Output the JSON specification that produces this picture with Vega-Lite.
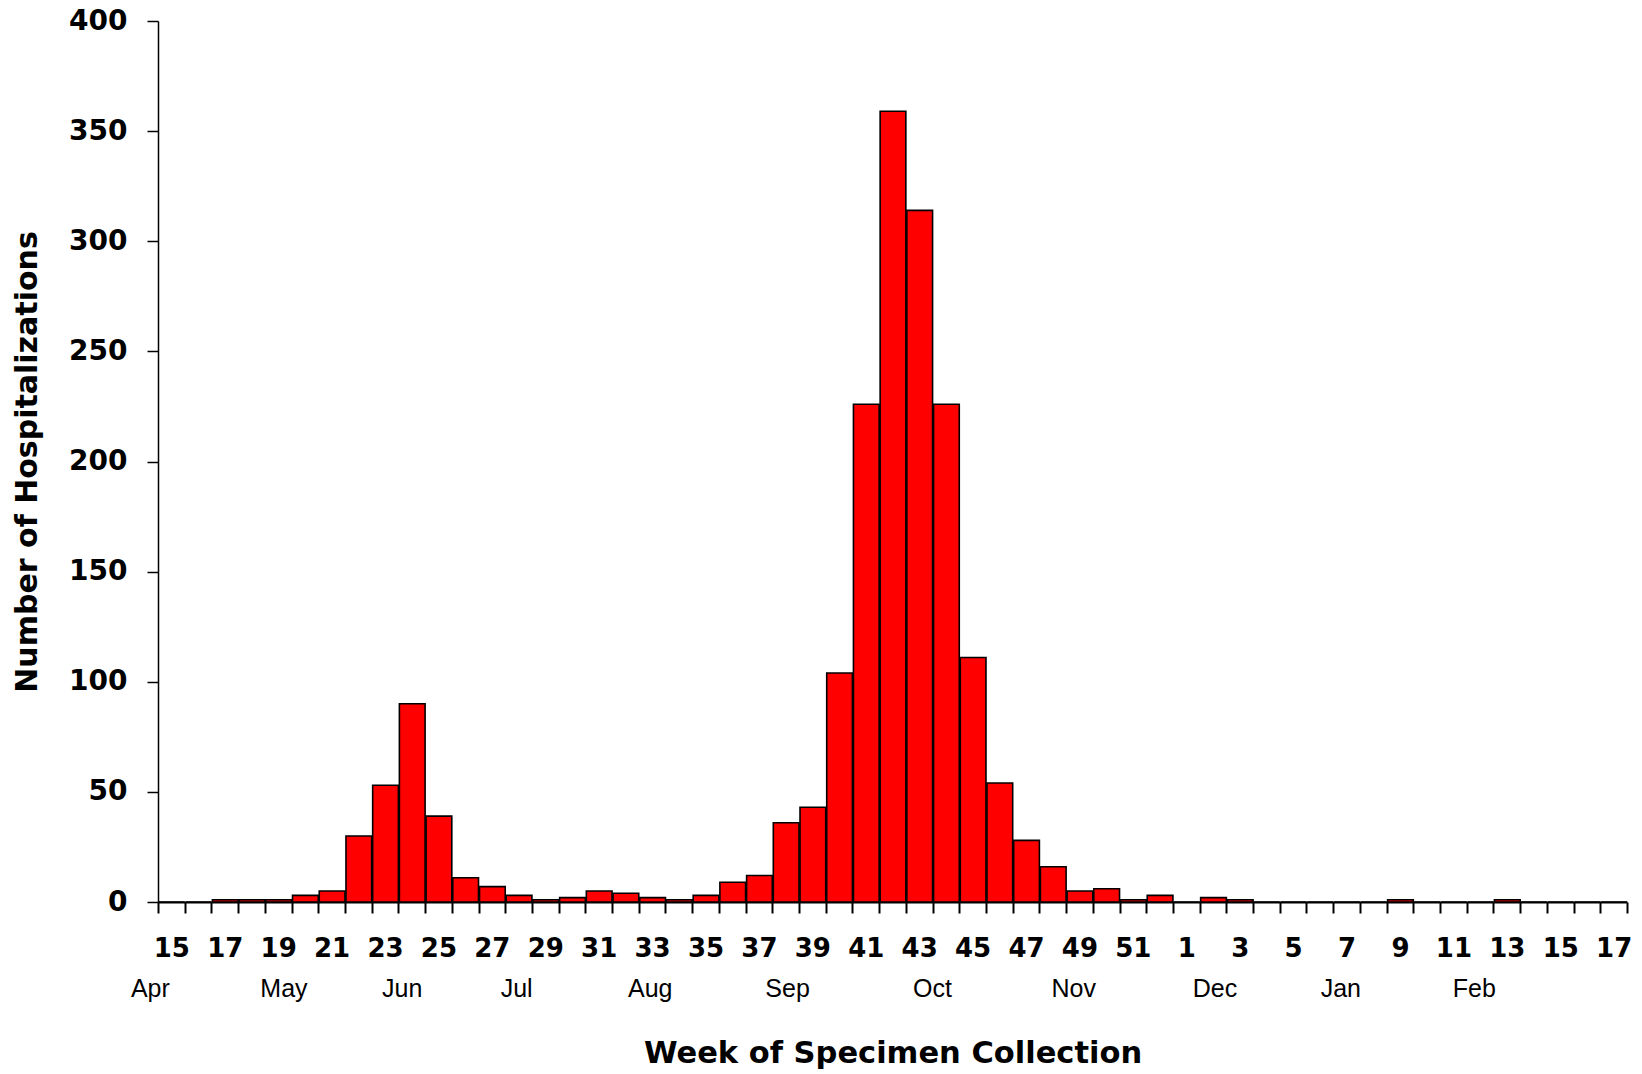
{
  "$schema": "https://vega.github.io/schema/vega-lite/v6.json",
  "width": 1469,
  "height": 881,
  "autosize": "none",
  "padding": {"left": 158, "top": 21, "right": 15, "bottom": 172},
  "background": "white",
  "config": {"view": {"stroke": null}},
  "datasets": {
    "weeks": [
      {"week_start": "2009-04-12", "hospitalizations": 0},
      {"week_start": "2009-04-19", "hospitalizations": 0},
      {"week_start": "2009-04-26", "hospitalizations": 1},
      {"week_start": "2009-05-03", "hospitalizations": 1},
      {"week_start": "2009-05-10", "hospitalizations": 1},
      {"week_start": "2009-05-17", "hospitalizations": 3},
      {"week_start": "2009-05-24", "hospitalizations": 5},
      {"week_start": "2009-05-31", "hospitalizations": 30},
      {"week_start": "2009-06-07", "hospitalizations": 53},
      {"week_start": "2009-06-14", "hospitalizations": 90},
      {"week_start": "2009-06-21", "hospitalizations": 39},
      {"week_start": "2009-06-28", "hospitalizations": 11},
      {"week_start": "2009-07-05", "hospitalizations": 7},
      {"week_start": "2009-07-12", "hospitalizations": 3},
      {"week_start": "2009-07-19", "hospitalizations": 1},
      {"week_start": "2009-07-26", "hospitalizations": 2},
      {"week_start": "2009-08-02", "hospitalizations": 5},
      {"week_start": "2009-08-09", "hospitalizations": 4},
      {"week_start": "2009-08-16", "hospitalizations": 2},
      {"week_start": "2009-08-23", "hospitalizations": 1},
      {"week_start": "2009-08-30", "hospitalizations": 3},
      {"week_start": "2009-09-06", "hospitalizations": 9},
      {"week_start": "2009-09-13", "hospitalizations": 12},
      {"week_start": "2009-09-20", "hospitalizations": 36},
      {"week_start": "2009-09-27", "hospitalizations": 43},
      {"week_start": "2009-10-04", "hospitalizations": 104},
      {"week_start": "2009-10-11", "hospitalizations": 226},
      {"week_start": "2009-10-18", "hospitalizations": 359},
      {"week_start": "2009-10-25", "hospitalizations": 314},
      {"week_start": "2009-11-01", "hospitalizations": 226},
      {"week_start": "2009-11-08", "hospitalizations": 111},
      {"week_start": "2009-11-15", "hospitalizations": 54},
      {"week_start": "2009-11-22", "hospitalizations": 28},
      {"week_start": "2009-11-29", "hospitalizations": 16},
      {"week_start": "2009-12-06", "hospitalizations": 5},
      {"week_start": "2009-12-13", "hospitalizations": 6},
      {"week_start": "2009-12-20", "hospitalizations": 1},
      {"week_start": "2009-12-27", "hospitalizations": 3},
      {"week_start": "2010-01-03", "hospitalizations": 0},
      {"week_start": "2010-01-10", "hospitalizations": 2},
      {"week_start": "2010-01-17", "hospitalizations": 1},
      {"week_start": "2010-01-24", "hospitalizations": 0},
      {"week_start": "2010-01-31", "hospitalizations": 0},
      {"week_start": "2010-02-07", "hospitalizations": 0},
      {"week_start": "2010-02-14", "hospitalizations": 0},
      {"week_start": "2010-02-21", "hospitalizations": 0},
      {"week_start": "2010-02-28", "hospitalizations": 1},
      {"week_start": "2010-03-07", "hospitalizations": 0},
      {"week_start": "2010-03-14", "hospitalizations": 0},
      {"week_start": "2010-03-21", "hospitalizations": 0},
      {"week_start": "2010-03-28", "hospitalizations": 1},
      {"week_start": "2010-04-04", "hospitalizations": 0},
      {"week_start": "2010-04-11", "hospitalizations": 0},
      {"week_start": "2010-04-18", "hospitalizations": 0},
      {"week_start": "2010-04-25", "hospitalizations": 0}
    ],
    "months": [
      {"month": "Apr", "at": "2009-04-10"},
      {"month": "May", "at": "2009-05-15"},
      {"month": "Jun", "at": "2009-06-15"},
      {"month": "Jul", "at": "2009-07-15"},
      {"month": "Aug", "at": "2009-08-19"},
      {"month": "Sep", "at": "2009-09-24"},
      {"month": "Oct", "at": "2009-11-01"},
      {"month": "Nov", "at": "2009-12-08"},
      {"month": "Dec", "at": "2010-01-14"},
      {"month": "Jan", "at": "2010-02-16"},
      {"month": "Feb", "at": "2010-03-23"}
    ]
  },
  "layer": [
    {
      "data": {"name": "weeks"},
      "mark": {"type": "bar", "color": "#ff0000", "stroke": "black", "strokeWidth": 1.6},
      "encoding": {
        "x": {
          "timeUnit": "utcyearweek",
          "field": "week_start",
          "type": "temporal",
          "scale": {
            "type": "utc",
            "nice": false,
            "domain": [
              {"year": 2009, "month": 4, "date": 12, "utc": true},
              {"year": 2010, "month": 5, "date": 2, "utc": true}
            ]
          },
          "axis": {
            "title": "Week of Specimen Collection",
            "grid": false,
            "tickCount": {"interval": "week", "step": 1},
            "labelExpr": "toNumber(utcFormat(datum.value, '%U')) % 2 == 1 ? '' + toNumber(utcFormat(datum.value, '%U')) : ''",
            "labelOffset": 13.35,
            "labelOverlap": false,
            "labelFlush": false,
            "labelFont": "DejaVu Sans",
            "labelFontWeight": "bold",
            "labelFontSize": 26,
            "labelColor": "black",
            "labelPadding": 22,
            "tickSize": 11,
            "tickWidth": 2,
            "tickColor": "black",
            "domainColor": "black",
            "domainWidth": 2,
            "titleFont": "DejaVu Sans",
            "titleFontWeight": "bold",
            "titleFontSize": 30.5,
            "titleColor": "black",
            "titlePadding": 77
          }
        },
        "y": {
          "field": "hospitalizations",
          "type": "quantitative",
          "scale": {"domain": [0, 400], "nice": false},
          "axis": {
            "title": "Number of Hospitalizations",
            "grid": false,
            "values": [0, 50, 100, 150, 200, 250, 300, 350, 400],
            "labelFont": "DejaVu Sans",
            "labelFontWeight": "bold",
            "labelFontSize": 28,
            "labelColor": "black",
            "labelPadding": 20,
            "tickSize": 11,
            "tickWidth": 1.5,
            "tickColor": "black",
            "domainColor": "black",
            "domainWidth": 1.5,
            "titleFont": "DejaVu Sans",
            "titleFontWeight": "bold",
            "titleFontSize": 30,
            "titleColor": "black",
            "titlePadding": 26
          }
        }
      }
    },
    {
      "data": {"name": "months"},
      "mark": {"type": "text", "font": "Liberation Sans", "fontSize": 25, "align": "center", "baseline": "alphabetic", "color": "black"},
      "encoding": {
        "x": {"field": "at", "type": "temporal"},
        "y": {"datum": -43, "type": "quantitative"},
        "text": {"field": "month", "type": "nominal"}
      }
    }
  ]
}
